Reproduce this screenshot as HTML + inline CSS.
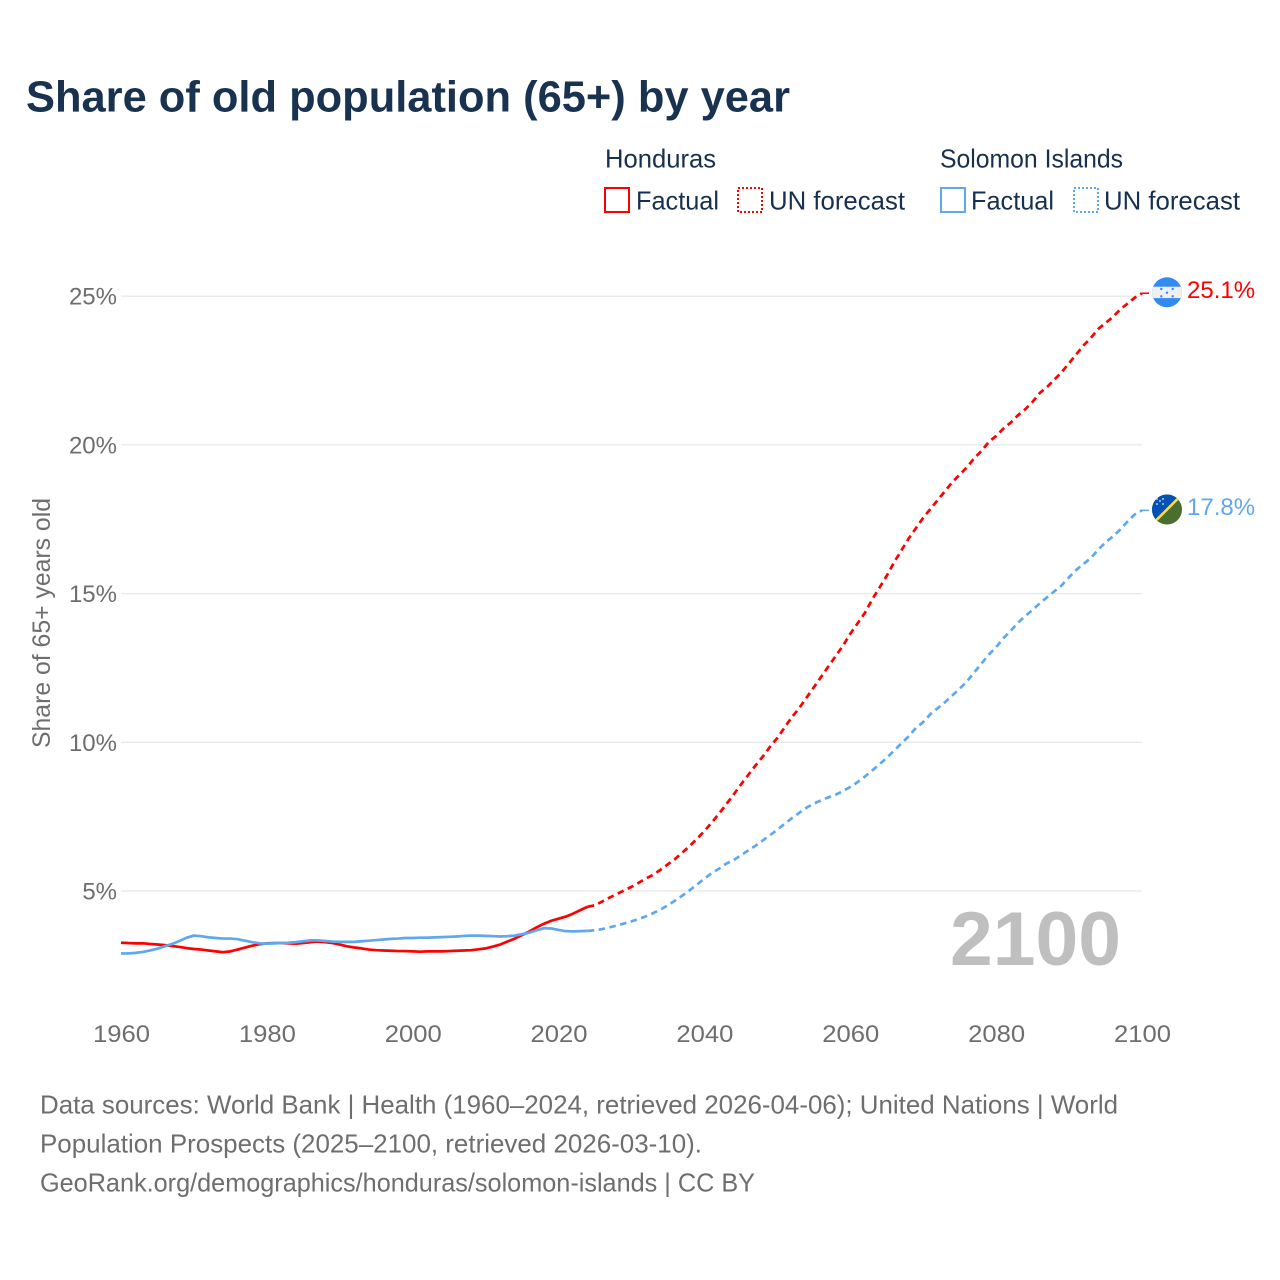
<!DOCTYPE html>
<html lang="en">
<head>
<meta charset="utf-8">
<title>Share of old population (65+) by year</title>
<style>
html,body{margin:0;padding:0;background:#fff;}
svg{display:block;font-family:"Liberation Sans",sans-serif;}
</style>
</head>
<body>
<svg id="chart" width="1280" height="1280" viewBox="0 0 1280 1280" xmlns="http://www.w3.org/2000/svg">
  <defs>
    <clipPath id="flag-clip-hn"><circle cx="1167" cy="292.3" r="15"/></clipPath>
    <clipPath id="flag-clip-sb"><circle cx="1167" cy="509.5" r="15"/></clipPath>
  </defs>
  <rect width="1280" height="1280" fill="#fff"/>
  <text x="26" y="111.5" font-size="44" font-weight="700" fill="#18324f" textLength="764" lengthAdjust="spacingAndGlyphs">Share of old population (65+) by year</text>

  <g font-size="26" fill="#18304f">
    <text x="605" y="167.5" textLength="111" lengthAdjust="spacingAndGlyphs">Honduras</text>
    <text x="940" y="167.5" textLength="183" lengthAdjust="spacingAndGlyphs">Solomon Islands</text>
    <rect x="605" y="188" width="24" height="24" fill="none" stroke="#ff0000" stroke-width="2"/>
    <text x="636" y="209.5" textLength="83" lengthAdjust="spacingAndGlyphs">Factual</text>
    <rect x="738" y="188" width="24" height="24" fill="none" stroke="#ff0000" stroke-width="2" stroke-dasharray="2 2"/>
    <text x="769" y="209.5" textLength="136" lengthAdjust="spacingAndGlyphs">UN forecast</text>
    <rect x="941" y="188" width="24" height="24" fill="none" stroke="#5fa8ee" stroke-width="2"/>
    <text x="971" y="209.5" textLength="83" lengthAdjust="spacingAndGlyphs">Factual</text>
    <rect x="1074" y="188" width="24" height="24" fill="none" stroke="#5fa8ee" stroke-width="2" stroke-dasharray="2 2"/>
    <text x="1104" y="209.5" textLength="136" lengthAdjust="spacingAndGlyphs">UN forecast</text>
  </g>

  <text transform="translate(50,623) rotate(-90)" text-anchor="middle" font-size="25" fill="#6e6e6e" textLength="250" lengthAdjust="spacingAndGlyphs">Share of 65+ years old</text>

  <g id="grid"></g>
  <g id="y-ticks" font-size="24" fill="#6e6e6e" text-anchor="end"></g>
  <g id="x-ticks" font-size="24" fill="#6e6e6e" text-anchor="middle"></g>

  <text x="950" y="965" font-size="76" font-weight="700" fill="#bfbfbf" textLength="171" lengthAdjust="spacingAndGlyphs">2100</text>

  <g id="series" fill="none" stroke-linejoin="round"></g>

  <g clip-path="url(#flag-clip-hn)">
    <rect x="1150" y="275" width="34" height="34" fill="#338af3"/>
    <rect x="1150" y="286.7" width="34" height="11.4" fill="#f0f0f0"/>
    <circle cx="1167" cy="292.7" r="1.2" fill="#338af3"/>
    <circle cx="1161.3" cy="289" r="1.2" fill="#338af3"/>
    <circle cx="1172.7" cy="289" r="1.2" fill="#338af3"/>
    <circle cx="1161.3" cy="296.3" r="1.2" fill="#338af3"/>
    <circle cx="1172.7" cy="296.3" r="1.2" fill="#338af3"/>
  </g>
  <g clip-path="url(#flag-clip-sb)">
    <rect x="1150" y="492" width="34" height="36" fill="#496e2d"/>
    <polygon points="1150,492 1186,492 1150,528" fill="#0052b4"/>
    <line x1="1152" y1="524.5" x2="1182" y2="494.5" stroke="#ffda44" stroke-width="2.6"/>
    <circle cx="1157" cy="504" r="0.9" fill="#f0f0f0"/>
    <circle cx="1163" cy="504" r="0.9" fill="#f0f0f0"/>
    <circle cx="1160" cy="501" r="0.9" fill="#f0f0f0"/>
    <circle cx="1157" cy="499" r="0.9" fill="#f0f0f0"/>
    <circle cx="1163" cy="499" r="0.9" fill="#f0f0f0"/>
  </g>
  <g id="end-labels" font-size="24"></g>

  <g font-size="26" fill="#6e6e6e">
    <text x="40" y="1113.5" textLength="1078" lengthAdjust="spacingAndGlyphs">Data sources: World Bank | Health (1960–2024, retrieved 2026-04-06); United Nations | World</text>
    <text x="40" y="1152.5" textLength="662" lengthAdjust="spacingAndGlyphs">Population Prospects (2025–2100, retrieved 2026-03-10).</text>
    <text x="40" y="1191.5" textLength="715" lengthAdjust="spacingAndGlyphs">GeoRank.org/demographics/honduras/solomon-islands | CC BY</text>
  </g>
</svg>
<script>
const yTickValues = [5, 10, 15, 20, 25];
const xTickYears = [1960, 1980, 2000, 2020, 2040, 2060, 2080, 2100];
const factualStartYear = 1960;
const forecastStartYear = 2024;

const hondurasFactual = [3.26,3.25,3.24,3.24,3.22,3.20,3.18,3.15,3.12,3.08,3.05,3.03,3.00,2.97,2.94,2.97,3.03,3.10,3.16,3.21,3.24,3.25,3.25,3.24,3.23,3.25,3.28,3.30,3.28,3.25,3.20,3.14,3.10,3.07,3.03,3.01,3.00,2.99,2.98,2.98,2.97,2.96,2.97,2.97,2.97,2.98,2.99,3.00,3.01,3.04,3.07,3.13,3.20,3.30,3.40,3.52,3.64,3.78,3.90,4.00,4.07,4.14,4.24,4.36,4.47];
const solomonFactual = [2.90,2.90,2.92,2.95,3.00,3.06,3.14,3.22,3.32,3.43,3.50,3.48,3.44,3.42,3.40,3.40,3.38,3.33,3.28,3.24,3.23,3.24,3.25,3.26,3.28,3.31,3.34,3.34,3.32,3.30,3.29,3.29,3.29,3.31,3.33,3.35,3.37,3.39,3.40,3.42,3.42,3.43,3.43,3.44,3.45,3.46,3.47,3.49,3.50,3.50,3.49,3.48,3.47,3.48,3.50,3.55,3.60,3.68,3.75,3.74,3.69,3.65,3.64,3.65,3.66];
const hondurasForecast = [4.47,4.52,4.65,4.78,4.90,5.02,5.14,5.28,5.42,5.55,5.72,5.90,6.08,6.30,6.52,6.76,7.02,7.30,7.60,7.92,8.24,8.58,8.90,9.22,9.52,9.85,10.15,10.50,10.85,11.15,11.50,11.85,12.20,12.55,12.90,13.25,13.65,14.00,14.35,14.80,15.20,15.60,16.05,16.45,16.85,17.20,17.55,17.85,18.15,18.45,18.75,19.00,19.25,19.55,19.80,20.10,20.30,20.55,20.75,21.00,21.20,21.45,21.75,21.95,22.20,22.45,22.75,23.05,23.35,23.60,23.90,24.10,24.30,24.55,24.75,24.95,25.10];
const solomonForecast = [3.66,3.68,3.72,3.78,3.84,3.91,3.98,4.06,4.15,4.26,4.38,4.52,4.68,4.85,5.03,5.22,5.42,5.60,5.75,5.92,6.04,6.20,6.36,6.52,6.70,6.88,7.06,7.26,7.45,7.63,7.80,7.94,8.05,8.15,8.24,8.36,8.50,8.66,8.85,9.05,9.26,9.48,9.72,9.96,10.20,10.48,10.68,10.95,11.15,11.35,11.58,11.80,12.05,12.35,12.65,12.95,13.20,13.50,13.75,14.02,14.25,14.45,14.68,14.88,15.08,15.28,15.55,15.80,16.00,16.20,16.48,16.72,16.92,17.15,17.42,17.66,17.80];

const NS = 'http://www.w3.org/2000/svg';
function xScale(year) { return 121 + (year - 1960) * (1142 - 121) / 140; }
function yScale(value) { return 1039.7 - value * 29.74; }

function linePath(values, startYear) {
  return values.map(function (v, i) {
    return (i ? 'L' : 'M') + xScale(startYear + i).toFixed(2) + ' ' + yScale(v).toFixed(2);
  }).join(' ');
}

const gridGroup = document.getElementById('grid');
const yTickGroup = document.getElementById('y-ticks');
yTickValues.forEach(function (v) {
  const line = document.createElementNS(NS, 'line');
  
  
  line.setAttribute('x1', xScale(1960));
  line.setAttribute('x2', xScale(2100));
  line.setAttribute('y1', yScale(v));
  line.setAttribute('y2', yScale(v));
  line.setAttribute('stroke', '#e8e8e8');
  line.setAttribute('stroke-width', '1.3');
  gridGroup.appendChild(line);
  const label = document.createElementNS(NS, 'text');
  
  
  label.setAttribute('x', 117);
  label.setAttribute('y', yScale(v) + 8.5);
  label.textContent = v + '%';
  yTickGroup.appendChild(label);
});

const xTickGroup = document.getElementById('x-ticks');
xTickYears.forEach(function (year) {
  const label = document.createElementNS(NS, 'text');
  
  
  label.setAttribute('x', xScale(year) + 0.5);
  label.setAttribute('y', 1042);
  label.setAttribute('textLength', '57');
  label.setAttribute('lengthAdjust', 'spacingAndGlyphs');
  label.textContent = year;
  xTickGroup.appendChild(label);
});

const seriesGroup = document.getElementById('series');
function addLine(name, values, startYear, colour, dashed) {
  const path = document.createElementNS(NS, 'path');
  
  
  path.setAttribute('d', linePath(values, startYear));
  path.setAttribute('stroke', colour);
  path.setAttribute('stroke-width', '2.7');
  if (dashed) path.setAttribute('stroke-dasharray', '6.5 4.5');
  seriesGroup.appendChild(path);
}
function addConnector(name, values, colour) {
  const last = values[values.length - 1];
  const line = document.createElementNS(NS, 'line');
  
  
  line.setAttribute('x1', xScale(2100));
  line.setAttribute('x2', xScale(2100) + 7);
  line.setAttribute('y1', yScale(last));
  line.setAttribute('y2', yScale(last));
  line.setAttribute('stroke', colour);
  line.setAttribute('stroke-width', '1.5');
  seriesGroup.appendChild(line);
}
addLine('honduras-forecast-line', hondurasForecast, forecastStartYear, '#ff0000', true);
addLine('solomon-forecast-line', solomonForecast, forecastStartYear, '#5fa8ee', true);
addLine('honduras-factual-line', hondurasFactual, factualStartYear, '#ff0000', false);
addLine('solomon-factual-line', solomonFactual, factualStartYear, '#5fa8ee', false);
addConnector('honduras-flag-connector', hondurasForecast, '#ff0000');
addConnector('solomon-flag-connector', solomonForecast, '#5fa8ee');

const endLabelGroup = document.getElementById('end-labels');
function addEndLabel(name, values, colour, offset) {
  const last = values[values.length - 1];
  const label = document.createElementNS(NS, 'text');
  
  
  label.setAttribute('x', 1187);
  label.setAttribute('y', yScale(last) + offset);
  label.setAttribute('fill', colour);
  label.textContent = last.toFixed(1) + '%';
  endLabelGroup.appendChild(label);
}
addEndLabel('honduras-end-value', hondurasForecast, '#ff0000', 5);
addEndLabel('solomon-end-value', solomonForecast, '#5fa8ee', 4.5);
</script>
</body>
</html>
